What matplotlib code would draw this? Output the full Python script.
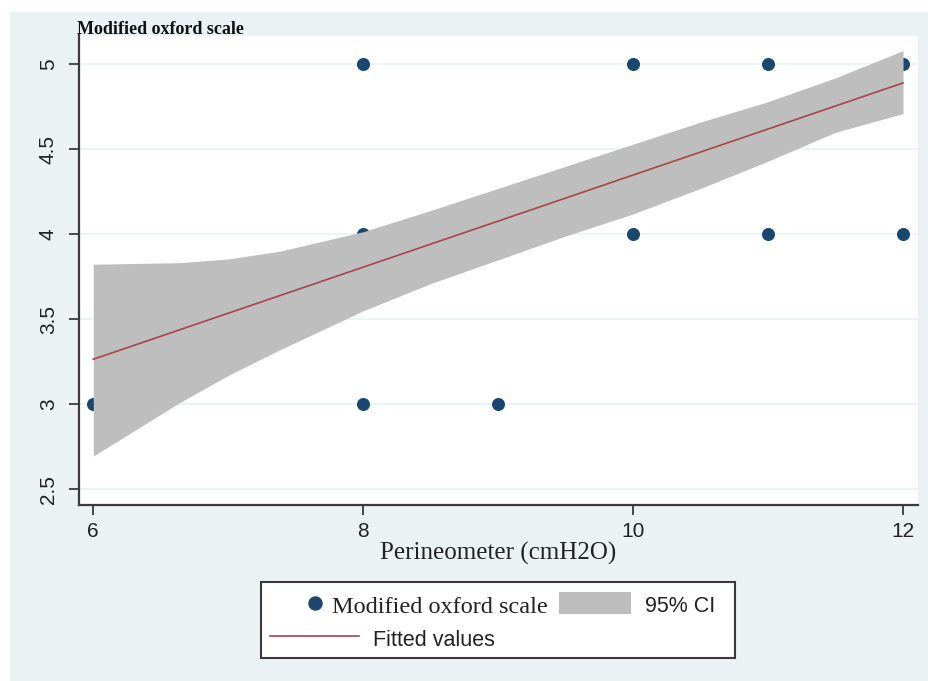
import matplotlib.pyplot as plt
from matplotlib.patches import Rectangle
from matplotlib.lines import Line2D

# --- Data ---
perineometer = [6, 8, 8, 8, 9, 10, 10, 11, 11, 12, 12]
oxford = [3, 5, 4, 3, 3, 5, 4, 5, 4, 5, 4]

fit_x = [6, 12]
fit_y = [3.265, 4.89]

ci_x = [6, 6.64, 7.0, 7.38, 8.0, 8.5, 9.0, 9.5, 10.0, 10.5, 11.0, 11.5, 12]
ci_hi = [3.824, 3.833, 3.855, 3.90, 4.015, 4.14, 4.27, 4.40, 4.53, 4.66, 4.78, 4.92, 5.08]
ci_lo = [2.696, 3.01, 3.17, 3.32, 3.55, 3.71, 3.85, 3.99, 4.12, 4.27, 4.43, 4.60, 4.71]

x_ticks = [6, 8, 10, 12]
y_ticks = [2.5, 3, 3.5, 4, 4.5, 5]

# --- Style ---
W, H = 929, 681
SERIF = "Liberation Serif"
SANS = "Liberation Sans"
NAVY = "#1A476F"
MAROON = "#A8444A"
BAND = "#BEBEBE"
REGION = "#EAF2F3"
AXIS = "#3A3A3A"

fig = plt.figure(figsize=(W / 100, H / 100), dpi=100)

# background axes in pixel coordinates (graph region + legend)
bg = fig.add_axes([0, 0, 1, 1], zorder=0)
bg.set_xlim(0, W)
bg.set_ylim(H, 0)
bg.axis("off")
bg.add_patch(Rectangle((10, 12), W - 10, H - 12, color=REGION, lw=0))

# plot region
ax = fig.add_axes([78.7 / W, 1 - 505 / H, (918 - 78.7) / W, (505 - 35.5) / H], zorder=1)
ax.set_facecolor("white")
ax.set_xlim(5.892, 12.111)
ax.set_ylim(2.408, 5.169)

ax.scatter(perineometer, oxford, s=88, color=NAVY, lw=0, zorder=2)
ax.fill_between(ci_x, ci_lo, ci_hi, color=BAND, lw=0, zorder=3)
ax.plot(fit_x, fit_y, color=MAROON, lw=1.2, zorder=4)

ax.set_xticks(x_ticks)
ax.set_yticks(y_ticks)
ax.set_xticklabels([str(v) for v in x_ticks], fontfamily=SANS, fontsize=15)
ax.set_yticklabels([f"{v:g}" for v in y_ticks], fontfamily=SANS, fontsize=15,
                   rotation=90, va="center")
ax.tick_params(axis="both", length=7, width=1.3, color=AXIS, labelcolor="#222222")
ax.tick_params(axis="x", pad=5)
ax.tick_params(axis="y", pad=8)
ax.grid(axis="y", color=REGION, lw=1.2, zorder=0)
ax.set_axisbelow(True)

for side in ["top", "right"]:
    ax.spines[side].set_visible(False)
for side in ["left", "bottom"]:
    ax.spines[side].set_color(AXIS)
    ax.spines[side].set_linewidth(1.6)

ax.set_xlabel("Perineometer (cmH2O)", fontfamily=SERIF, fontsize=18,
              color="#222222", labelpad=1)
fig.text(77 / W, 1 - 34 / H, "Modified oxford scale", fontfamily=SERIF,
         fontweight="bold", fontsize=13, color="#111111", va="baseline")

# legend box
bg.add_patch(Rectangle((261, 582), 474, 76, facecolor="white", edgecolor=AXIS, lw=1.5))
bg.add_line(Line2D([315], [603], marker="o", markersize=9.4, color=NAVY, lw=0))
bg.text(332, 612.7, "Modified oxford scale", fontfamily=SERIF, fontsize=17.5,
        color="#222222", va="baseline")
bg.add_patch(Rectangle((559, 592), 72, 22, color=BAND, lw=0))
bg.text(645, 612, "95% CI", fontfamily=SANS, fontsize=15.5, color="#222222",
        va="baseline")
bg.add_line(Line2D([270, 359], [635.7, 635.7], color=MAROON, lw=1.2))
bg.text(373, 646, "Fitted values", fontfamily=SANS, fontsize=15.5, color="#222222",
        va="baseline")

fig.savefig("out.png", dpi=100)
